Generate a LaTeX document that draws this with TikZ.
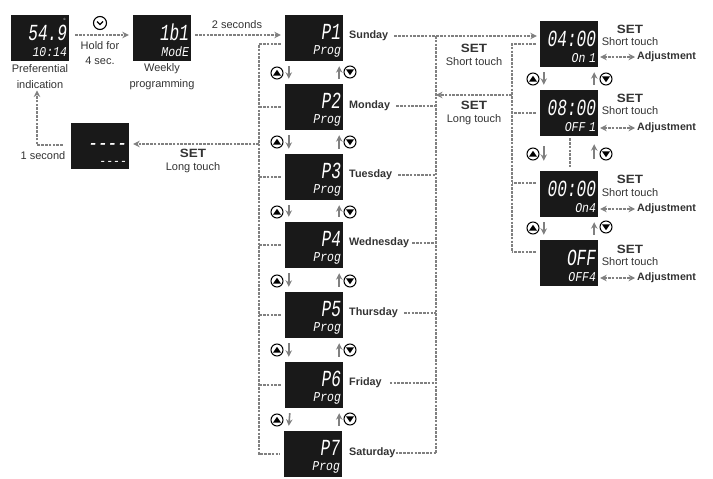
\documentclass[tikz,border=0pt]{standalone}
\usepackage{fontspec}
\usetikzlibrary{arrows.meta}
\setmainfont{Liberation Sans}
\newfontfamily\seghigh[FakeStretch=0.7]{Liberation Mono}
\newfontfamily\seglow[FakeStretch=0.85]{Liberation Mono}
\newfontfamily\setword[FakeStretch=1.12]{Liberation Sans}
\newcommand{\seg}[2]{{\rule{0pt}{21pt}\seghigh\itshape\fontsize{23}{19}\selectfont #1}\\{\seglow\itshape\fontsize{13.5}{19.5}\selectfont #2}}
\newcommand{\setmark}{{\setword\bfseries\fontsize{12}{12}\selectfont SET}}
\begin{document}
\begin{tikzpicture}[x=1pt, y=-1pt, >={Stealth[length=6.5pt,width=6.5pt]},
        every node/.style={font=\fontsize{11}{15.5}\selectfont, text=black!80, inner sep=0pt},
        disp/.style={fill=black!90, text=white, minimum height=46pt, text width=54pt, inner xsep=2pt, align=right},
        day/.style={anchor=west, font=\fontsize{10.8}{13}\selectfont\bfseries},
        adj/.style={anchor=west, font=\fontsize{10.7}{13}\selectfont\bfseries},
        note/.style={align=center, font=\fontsize{11}{12.5}\selectfont},
        dashline/.style={black!50, line width=1.1pt, dash pattern=on 2.6pt off 1.2pt},
        keyarrow/.style={->, black!50, line width=1.6pt},
        upkey/.style={circle, draw=black, line width=1pt, minimum size=12pt, path picture={\fill[black] (path picture bounding box.center) ++(0pt,3.2pt) -- ++(-4pt,-5.8pt) -- ++(8pt,0pt) -- cycle;}},
        downkey/.style={circle, draw=black, line width=1pt, minimum size=12pt, path picture={\fill[black] (path picture bounding box.center) ++(0pt,-3.2pt) -- ++(-4pt,5.8pt) -- ++(8pt,0pt) -- cycle;}}]
        \useasboundingbox (0,0) rectangle (713,479);
        % displays
        \node[disp] (pref) at (40,38) {\seg{54.9}{10:14}};
        \node[text=white, font=\fontsize{4}{4}\selectfont] (prefc) at (64.5,19) {c};
        \node[disp] (week) at (162,38) {\seg{1b1}{ModE}};
        \node[disp] (p1) at (314,38) {\seg{P1}{Prog}};
        \node[disp] (p2) at (314,107) {\seg{P2}{Prog}};
        \node[disp] (p3) at (314,177) {\seg{P3}{Prog}};
        \node[disp] (p4) at (314,245) {\seg{P4}{Prog}};
        \node[disp] (p5) at (314,315) {\seg{P5}{Prog}};
        \node[disp] (p6) at (314,385) {\seg{P6}{Prog}};
        \node[disp] (p7) at (313,454) {\seg{P7}{Prog}};
        \node[disp] (wait) at (100,146) {\seg{\raisebox{-3pt}{{-}{-}{-}{-}}}{\raisebox{-3pt}{{-}{-}{-}{-}}}};
        \node[disp] (t1) at (569,44) {\seg{04:00}{On 1}};
        \node[disp] (t2) at (569,113) {\seg{08:00}{OFF 1}};
        \node[disp] (t3) at (569,194) {\seg{00:00}{On4}};
        \node[disp] (t4) at (569,263) {\seg{OFF}{OFF4}};
        % texts
        \node[note, font=\fontsize{11}{15.5}\selectfont] (preftxt) at (40,76.5) {Preferential\\indication};
        \node[note, font=\fontsize{11}{15.5}\selectfont] (weektxt) at (162,76.5) {Weekly\\programming};
        \node[note, font=\fontsize{11}{15.5}\selectfont] (holdtxt) at (100,53) {Hold for\\4 sec.};
        \node[note] (twosec) at (237,25) {2 seconds};
        \node[note] (onesec) at (43,156) {1 second};
        \node[note] (waittxt) at (193,161) {\setmark\\Long touch};
        \node[note] (shorttxt) at (474,55) {\setmark\\Short touch};
        \node[note] (longtxt) at (474,113) {\setmark\\Long touch};
        \node[note] (s1) at (630,35.5) {\setmark\\Short touch};
        \node[note] (s2) at (630,104.5) {\setmark\\Short touch};
        \node[note] (s3) at (630,186) {\setmark\\Short touch};
        \node[note] (s4) at (630,255.5) {\setmark\\Short touch};
        \node[adj] (a1) at (637,57) {Adjustment};
        \node[adj] (a2) at (637,128) {Adjustment};
        \node[adj] (a3) at (637,209) {Adjustment};
        \node[adj] (a4) at (637,278) {Adjustment};
        \node[day] (sun) at (349,36) {Sunday};
        \node[day] (mon) at (349,106) {Monday};
        \node[day] (tue) at (349,175) {Tuesday};
        \node[day] (wed) at (349,243) {Wednesday};
        \node[day] (thu) at (349,313) {Thursday};
        \node[day] (fri) at (349,383) {Friday};
        \node[day] (sat) at (349,453) {Saturday};
        % clock key
        \node[circle, draw=black, line width=1.1pt, minimum size=13pt] (clock) at (100,23) {};
        \draw[line width=1.1pt] ([shift={(-3pt,1.5pt)}]clock.center) -- ([shift={(0pt,-1.5pt)}]clock.center) -- ([shift={(3pt,1.5pt)}]clock.center);
        % main path
        \draw[dashline, ->, shorten <=6pt, shorten >=4pt] ([yshift=3pt]pref.east) -- ([yshift=3pt]week.west);
        \draw[dashline, ->, shorten <=4pt, shorten >=4pt] ([yshift=3pt]week.east) -- ([yshift=3pt]p1.west);
        \coordinate (lbus) at (259,454);
        \coordinate (rbus) at (436,453);
        \coordinate (sbus) at (512,252);
        \draw[dashline, shorten <=4pt] ([yshift=-6pt]p1.west) -| (lbus) -- ([xshift=-4pt]p7.west);
        \draw[dashline, shorten <=4pt] (p2.west) -- (p2.west -| lbus);
        \draw[dashline, shorten <=4pt] (p3.west) -- (p3.west -| lbus);
        \draw[dashline, shorten <=4pt] (p4.west) -- (p4.west -| lbus);
        \draw[dashline, shorten <=4pt] (p5.west) -- (p5.west -| lbus);
        \draw[dashline, shorten <=4pt] (p6.west) -- (p6.west -| lbus);
        \draw[dashline, ->, shorten >=4pt] (wait.east -| lbus) ++(0pt,2pt) -- ([yshift=2pt]wait.east);
        \draw[dashline, ->, shorten <=8pt, shorten >=2pt] ([yshift=1pt]wait.west) -| ([xshift=-3pt]preftxt.south);
        % day lines
        \draw[dashline, ->, shorten <=6pt, shorten >=3pt] (sun.east) -- (sun.east -| t1.west);
        \draw[dashline, shorten <=6pt] (mon.east) -- (mon.east -| rbus);
        \draw[dashline, shorten <=6pt] (tue.east) -- (tue.east -| rbus);
        \draw[dashline, shorten <=3pt] (wed.east) -- (wed.east -| rbus);
        \draw[dashline, shorten <=6pt] (thu.east) -- (thu.east -| rbus);
        \draw[dashline, shorten <=8pt] (fri.east) -- (fri.east -| rbus);
        \draw[dashline] (sat.east) -- (sat.east -| rbus);
        \draw[dashline] (rbus |- sun.east) -- (rbus);
        % time lines
        \draw[dashline, shorten <=4pt] (t1.west) -| (sbus);
        \draw[dashline, shorten <=4pt] (t2.west) -- (t2.west -| sbus);
        \draw[dashline, shorten <=4pt] ([yshift=11pt]t3.west) -- ([yshift=11pt]t3.west -| sbus);
        \draw[dashline, shorten <=4pt] ([yshift=11pt]t4.west) -- (sbus);
        \coordinate (backend) at (512,95);
        \draw[dashline, ->] (backend) -- (backend -| rbus);
        \draw[dashline, shorten <=2pt, shorten >=3pt] ([xshift=1pt]t2.south) -- ([xshift=1pt]t3.north);
        \draw[<->, dashline, shorten <=2pt, shorten >=2pt] (a1.west -| t1.east) -- (a1.west);
        \draw[<->, dashline, shorten <=2pt, shorten >=2pt] (a2.west -| t2.east) -- (a2.west);
        \draw[<->, dashline, shorten <=2pt, shorten >=2pt] (a3.west -| t3.east) -- (a3.west);
        \draw[<->, dashline, shorten <=2pt, shorten >=2pt] (a4.west -| t4.east) -- (a4.west);
        % keys between the days
        \node[upkey] (u1) at (277,73) {};
        \node[downkey] (d1) at (350,72) {};
        \draw[keyarrow] ([shift={(4pt,-5pt)}]p1.south west) -- ([shift={(4pt,5pt)}]p2.north west);
        \draw[keyarrow] ([shift={(-4pt,5pt)}]p2.north east) -- ([shift={(-4pt,-5pt)}]p1.south east);
        \node[upkey] (u2) at (277,142) {};
        \node[downkey] (d2) at (350,142) {};
        \draw[keyarrow] ([shift={(4pt,-5pt)}]p2.south west) -- ([shift={(4pt,5pt)}]p3.north west);
        \draw[keyarrow] ([shift={(-4pt,5pt)}]p3.north east) -- ([shift={(-4pt,-5pt)}]p2.south east);
        \node[upkey] (u3) at (277,212) {};
        \node[downkey] (d3) at (350,212) {};
        \draw[keyarrow] ([shift={(4pt,-5pt)}]p3.south west) -- ([shift={(4pt,5pt)}]p4.north west);
        \draw[keyarrow] ([shift={(-4pt,5pt)}]p4.north east) -- ([shift={(-4pt,-5pt)}]p3.south east);
        \node[upkey] (u4) at (277,281) {};
        \node[downkey] (d4) at (350,281) {};
        \draw[keyarrow] ([shift={(4pt,-5pt)}]p4.south west) -- ([shift={(4pt,5pt)}]p5.north west);
        \draw[keyarrow] ([shift={(-4pt,5pt)}]p5.north east) -- ([shift={(-4pt,-5pt)}]p4.south east);
        \node[upkey] (u5) at (277,350) {};
        \node[downkey] (d5) at (350,350) {};
        \draw[keyarrow] ([shift={(4pt,-5pt)}]p5.south west) -- ([shift={(4pt,5pt)}]p6.north west);
        \draw[keyarrow] ([shift={(-4pt,5pt)}]p6.north east) -- ([shift={(-4pt,-5pt)}]p5.south east);
        \node[upkey] (u6) at (277,420) {};
        \node[downkey] (d6) at (350,419) {};
        \draw[keyarrow] ([shift={(5pt,-5pt)}]p6.south west) -- ([shift={(5pt,5pt)}]p7.north west);
        \draw[keyarrow] ([shift={(-3pt,5pt)}]p7.north east) -- ([shift={(-4pt,-5pt)}]p6.south east);
        % keys between the times
        \node[upkey] (u7) at (533,79) {};
        \node[downkey] (d7) at (606,79) {};
        \draw[keyarrow] ([shift={(4pt,-5pt)}]t1.south west) -- ([shift={(4pt,5pt)}]t2.north west);
        \draw[keyarrow] ([shift={(-4pt,5pt)}]t2.north east) -- ([shift={(-4pt,-5pt)}]t1.south east);
        \node[upkey] (u8) at (533,154) {};
        \node[downkey] (d8) at (606,154) {};
        \draw[keyarrow] ([shift={(4pt,-10pt)}]t2.south west) -- ([shift={(4pt,10pt)}]t3.north west);
        \draw[keyarrow] ([shift={(-4pt,12pt)}]t3.north east) -- ([shift={(-4pt,-8pt)}]t2.south east);
        \node[upkey] (u9) at (533,228) {};
        \node[downkey] (d9) at (606,227) {};
        \draw[keyarrow] ([shift={(4pt,-5pt)}]t3.south west) -- ([shift={(4pt,5pt)}]t4.north west);
        \draw[keyarrow] ([shift={(-4pt,5pt)}]t4.north east) -- ([shift={(-4pt,-5pt)}]t3.south east);
    \end{tikzpicture}
\end{document}
